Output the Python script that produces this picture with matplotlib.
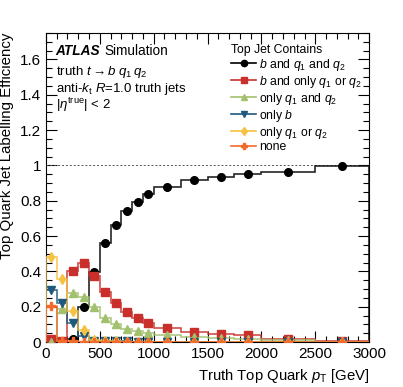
import numpy as np
import matplotlib
matplotlib.use('Agg')
from matplotlib import pyplot as plt
from matplotlib.lines import Line2D
from matplotlib.ticker import MultipleLocator, FixedLocator

# bin edges in truth top pT [GeV]
edges = [0, 100, 200, 300, 400, 500, 600, 700, 800, 900, 1000,
         1250, 1500, 1750, 2000, 2500, 3000]

b_q1_q2 = [0.003, 0.004, 0.015, 0.20, 0.395, 0.559, 0.665, 0.742, 0.791,
           0.838, 0.880, 0.918, 0.937, 0.952, 0.965, 0.998]
b_one_q = [0.015, 0.008, 0.404, 0.449, 0.374, 0.285, 0.219, 0.168, 0.138,
           0.109, 0.080, 0.055, 0.045, 0.038, 0.017, 0.004]
q1_q2 = [0.001, 0.185, 0.276, 0.257, 0.197, 0.138, 0.102, 0.077, 0.062,
         0.049, 0.040, 0.027, 0.021, 0.015, 0.010, 0.0]
only_b = [0.295, 0.219, 0.110, 0.037, 0.008, 0.005, 0.004, 0.004, 0.003,
          0.003, 0.003, 0.002, 0.002, 0.002, 0.002, 0.001]
only_q = [0.483, 0.355, 0.177, 0.068, 0.011, 0.006, 0.004, 0.003, 0.003,
          0.002, 0.002, 0.002, 0.001, 0.001, 0.001, 0.001]
none = [0.204, 0.006, 0.004, 0.003, 0.003, 0.002, 0.002, 0.002, 0.002,
        0.002, 0.002, 0.001, 0.001, 0.001, 0.001, 0.001]

labels = [r'$b$ and $q_1$ and $q_2$',
          r'$b$ and only $q_1$ or $q_2$',
          r'only $q_1$ and $q_2$',
          r'only $b$',
          r'only $q_1$ or $q_2$',
          'none']
colors = ['black', '#c9302c', '#a2c06e', '#1d5a7d', '#f5c242', '#f26b2a']
markers = ['o', 's', '^', 'v', 'd', 'P']
series = [b_q1_q2, b_one_q, q1_q2, only_b, only_q, none]

plt.rcParams['font.family'] = ['Liberation Sans', 'DejaVu Sans']
plt.rcParams['mathtext.fontset'] = 'custom'
plt.rcParams['mathtext.rm'] = 'Liberation Sans'
plt.rcParams['mathtext.it'] = 'Liberation Sans:italic'
plt.rcParams['mathtext.bf'] = 'Liberation Sans:bold'

fig = plt.figure(figsize=(4.03, 3.87), dpi=100)
ax = fig.add_axes([0.114, 0.116, 0.802, 0.799])

centers = [(edges[i] + edges[i + 1]) / 2 for i in range(len(edges) - 1)]

ax.axhline(1.0, color='#555555', ls=(0, (2, 2)), lw=0.7)

handles = []
for vals, col, mk, lab in zip(series, colors, markers, labels):
    ax.stairs(vals, edges, color=col, lw=1.2, alpha=0.85, zorder=3)
    ax.plot(centers, vals, ls='none', marker=mk, color=col, ms=5.5, zorder=4)
    handles.append(Line2D([], [], color=col, marker=mk, ms=4.5, lw=1.2, label=lab))

ax.set_xlim(0, 3000)
ax.set_ylim(0, 1.75)
ax.xaxis.set_major_locator(MultipleLocator(500))
ax.xaxis.set_minor_locator(MultipleLocator(100))
ax.yaxis.set_major_locator(FixedLocator([0, 0.2, 0.4, 0.6, 0.8, 1.0, 1.2, 1.4, 1.6]))
ax.yaxis.set_minor_locator(MultipleLocator(0.05))
ax.set_yticklabels(['0', '0.2', '0.4', '0.6', '0.8', '1', '1.2', '1.4', '1.6'])
ax.tick_params(which='both', direction='in', top=True, right=True, labelsize=11)
ax.tick_params(which='major', length=8, width=0.8)
ax.tick_params(which='minor', length=4, width=0.8)
for s in ax.spines.values():
    s.set_linewidth(0.8)

ax.set_xlabel(r'Truth Top Quark $p_{\rm T}$ [GeV]', fontsize=10.7, loc='right')
ax.set_ylabel('Top Quark Jet Labelling Efficiency', fontsize=10.8, loc='top')

ax.text(0.03, 0.93, 'ATLAS', transform=ax.transAxes, fontsize=9.8,
        fontweight='bold', fontstyle='italic')
ax.text(0.18, 0.93, 'Simulation', transform=ax.transAxes, fontsize=9.8)
ax.text(0.03, 0.865, r'truth $t \rightarrow b\ q_1\, q_2$', transform=ax.transAxes, fontsize=9.5)
ax.text(0.03, 0.81, r'anti-$k_{\rm t}$ $R$=1.0 truth jets', transform=ax.transAxes, fontsize=9.5)
ax.text(0.03, 0.755, r'$|\eta^{\rm true}|$ < 2', transform=ax.transAxes, fontsize=9.5)

leg = ax.legend(handles=handles, title='Top Jet Contains', loc='upper right',
                bbox_to_anchor=(1.005, 0.993), frameon=False, fontsize=8.8,
                title_fontsize=8.8, handlelength=2.0, handletextpad=0.3,
                labelspacing=0.08, borderaxespad=0.3, alignment='left')

fig.savefig('out.png', dpi=100)
